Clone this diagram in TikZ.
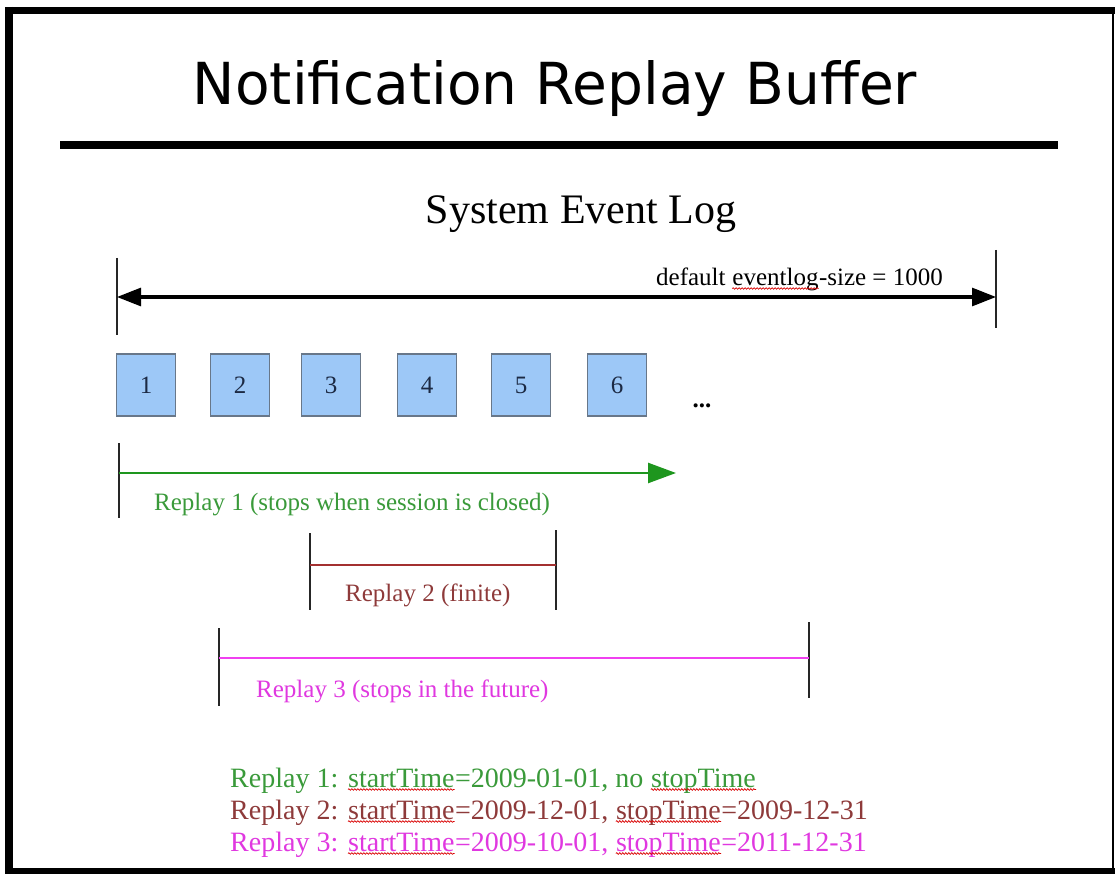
\documentclass[tikz,border=0pt]{standalone}
\usepackage{fontspec}
\setmainfont{Liberation Serif}
\newfontfamily\titlefont{DejaVu Sans}
\usetikzlibrary{arrows.meta,decorations.pathmorphing}
\definecolor{boxfill}{HTML}{9DC8F7}
\definecolor{boxline}{HTML}{687789}
\definecolor{numcol}{HTML}{1C2A44}
\definecolor{rgreen}{HTML}{1E961E}
\definecolor{tgreen}{HTML}{3A9A3A}
\definecolor{rred}{HTML}{A33030}
\definecolor{tred}{HTML}{8E3A3A}
\definecolor{rmag}{HTML}{F040F0}
\definecolor{tmag}{HTML}{E038E0}
\newcommand{\sqw}[1]{\tikz[baseline=(w.base),x=1pt,y=1pt]{\node[inner sep=0pt](w){#1};\draw[red!85!black,line width=0.7pt,decorate,decoration={snake,amplitude=0.8pt,segment length=3pt}] ([yshift=-2.5pt]w.base west) -- ([yshift=-2.5pt]w.base east);}}
\begin{document}
\begin{tikzpicture}[x=1pt,y=-1pt,
  frame/.style={line width=#1,black},
  tick/.style={line width=2pt,black!85},
  evbox/.style={draw=boxline,line width=1.5pt,fill=boxfill,minimum width=59pt,minimum height=62pt,inner sep=0pt,font=\fontsize{25}{30}\selectfont,text=numcol},
  lbl/.style={inner sep=0pt,anchor=base west,font=\fontsize{25}{30}\selectfont},
  btxt/.style={inner sep=0pt,anchor=base west,font=\fontsize{28}{32}\selectfont}]
\useasboundingbox (0,0) rectangle (1115,874);
\fill[white] (0,0) rectangle (1115,874);
% frame
\draw[frame=8pt] (9,7) -- (9,874);
\draw[frame=7pt] (5,11) -- (1115,11);
\draw[frame=2pt] (1113,11) -- (1113,874);
\draw[frame=6pt] (5,871) -- (1115,871);
% title
\node[inner sep=0pt,anchor=base] (title) at (555,105) {\resizebox{724pt}{44pt}{\titlefont Notification Replay Buffer}};
\draw[line width=8pt] (60,145) -- (1058,145);
\node[inner sep=0pt,anchor=base] (sel) at (581,224) {\fontsize{42}{48}\selectfont System Event Log};
% event log size
\coordinate (tlT) at (117,258); \coordinate (tlB) at (117,335);
\coordinate (trT) at (996,250); \coordinate (trB) at (996,328);
\draw[tick] (tlT) -- (tlB);
\draw[tick] (trT) -- (trB);
\coordinate (aL) at (117,297); \coordinate (aR) at (996,297);
\draw[line width=3pt,{Triangle[length=24pt,width=18pt]}-{Triangle[length=24pt,width=18pt]}] (aL) -- (aR);
\node[lbl] (size) at (656,286) {default \sqw{eventlog}-size = 1000};
% boxes
\node[evbox] (b1) at (146,385) {1};
\node[evbox] (b2) at (240,385) {2};
\node[evbox] (b3) at (331,385) {3};
\node[evbox] (b4) at (427,385) {4};
\node[evbox] (b5) at (521,385) {5};
\node[evbox] (b6) at (617,385) {6};
\node[inner sep=0pt,anchor=base,font=\fontsize{25}{30}\selectfont\bfseries] (dots) at (702,407) {...};
% replay 1
\coordinate (r1T) at (119,443); \coordinate (r1B) at (119,518);
\draw[tick] (r1T) -- (r1B);
\coordinate (r1s) at (119,473); \coordinate (r1e) at (676,473);
\draw[rgreen,line width=2.5pt,-{Triangle[length=28pt,width=20pt]}] (r1s) -- (r1e);
\node[lbl,text=tgreen] (l1) at (154,510) {Replay 1 (stops when session is closed)};
% replay 2
\coordinate (r2aT) at (310,533); \coordinate (r2aB) at (310,610);
\coordinate (r2bT) at (556,530); \coordinate (r2bB) at (556,610);
\draw[tick] (r2aT) -- (r2aB);
\draw[tick] (r2bT) -- (r2bB);
\coordinate (r2s) at (310,565); \coordinate (r2e) at (556,565);
\draw[rred,line width=2.5pt] (r2s) -- (r2e);
\node[lbl,text=tred] (l2) at (345,601) {Replay 2 (finite)};
% replay 3
\coordinate (r3aT) at (219,628); \coordinate (r3aB) at (219,706);
\coordinate (r3bT) at (809,622); \coordinate (r3bB) at (809,698);
\draw[tick] (r3aT) -- (r3aB);
\draw[tick] (r3bT) -- (r3bB);
\coordinate (r3s) at (219,658); \coordinate (r3e) at (809,658);
\draw[rmag,line width=2.5pt] (r3s) -- (r3e);
\node[lbl,text=tmag] (l3) at (256,697) {Replay 3 (stops in the future)};
% bottom text
\node[btxt,text=tgreen] (t1) at (230,787) {Replay 1: \sqw{startTime}=2009-01-01, no \sqw{stopTime}};
\node[btxt,text=tred] (t2) at (230,819) {Replay 2: \sqw{startTime}=2009-12-01, \sqw{stopTime}=2009-12-31};
\node[btxt,text=tmag] (t3) at (230,851) {Replay 3: \sqw{startTime}=2009-10-01, \sqw{stopTime}=2011-12-31};
\end{tikzpicture}
\end{document}
